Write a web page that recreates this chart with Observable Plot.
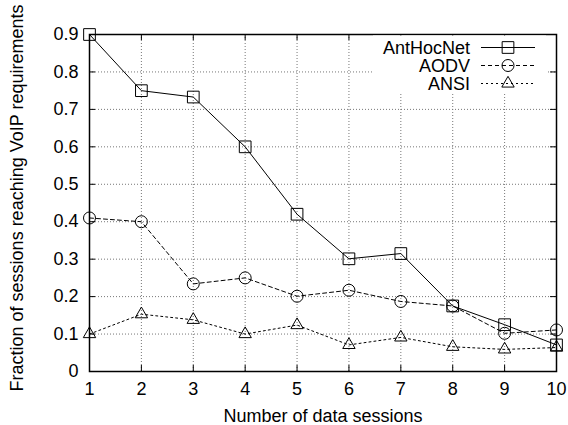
<!DOCTYPE html>
<html><head><meta charset="utf-8">
<script src="https://cdn.jsdelivr.net/npm/d3@7"></script>
<script src="https://cdn.jsdelivr.net/npm/@observablehq/plot@0.6"></script>
<style>
body{margin:0;background:#fff}
svg{font-family:"Liberation Sans",Arial,Helvetica,sans-serif}
</style>
</head><body><div id="chart"></div>
<script>
const sessions = [1, 2, 3, 4, 5, 6, 7, 8, 9, 10];
const antHocNet = [0.9, 0.75, 0.733, 0.6, 0.42, 0.301, 0.315, 0.175, 0.125, 0.071];
const aodv = [0.41, 0.40, 0.234, 0.25, 0.201, 0.217, 0.187, 0.175, 0.102, 0.111];
const ansi = [0.10, 0.153, 0.138, 0.10, 0.124, 0.071, 0.091, 0.066, 0.059, 0.064];
const yTicks = [0, 0.1, 0.2, 0.3, 0.4, 0.5, 0.6, 0.7, 0.8, 0.9];
const seriesNames = ["AntHocNet", "AODV", "ANSI"];
const xLabel = "Number of data sessions";
const yLabel = "Fraction of sessions reaching VoIP requirements";

const W = 568, H = 425;
const mL = 89, mR = 12, mT = 34, mB = 54;
const fw = W - mL - mR, fh = H - mT - mB;
const FS = 18;
const styles = [
  {symbol: "square", r: 6.6, dash: null},
  {symbol: "circle", r: 6, dash: "4,3"},
  {symbol: "triangle", r: 4.6, dash: "2,3"}
];
const allSeries = [antHocNet, aodv, ansi];
const data = [];
allSeries.forEach((vals, s) => vals.forEach((v, i) => data.push({series: seriesNames[s], s, x: sessions[i], y: v})));

const marks = [
  Plot.gridX({ticks: sessions, stroke: "#777", strokeOpacity: 1, strokeDasharray: "1,2"}),
  Plot.gridY({ticks: yTicks, stroke: "#777", strokeOpacity: 1, strokeDasharray: "1,2"}),
  Plot.tickX(sessions, {x: d => d, insetTop: fh - 6, stroke: "black"}),
  Plot.tickX(sessions, {x: d => d, insetBottom: fh - 6, stroke: "black"}),
  Plot.tickY(yTicks, {y: d => d, insetRight: fw - 6, stroke: "black"}),
  Plot.tickY(yTicks, {y: d => d, insetLeft: fw - 6, stroke: "black"}),
  Plot.axisX({ticks: sessions, tickSize: 0, tickPadding: 11, fontSize: FS, label: null, tickFormat: d => String(d)}),
  Plot.axisY({ticks: yTicks, tickSize: 0, tickPadding: 11, fontSize: FS, label: null, tickFormat: d => d === 0 ? "0" : d.toFixed(1)}),
];
styles.forEach((st, s) => {
  const d = data.filter(e => e.s === s);
  marks.push(Plot.line(d, {x: "x", y: "y", stroke: "black", strokeWidth: 1, strokeDasharray: st.dash}));
  marks.push(Plot.dot(d, {x: "x", y: "y", symbol: st.symbol, r: st.r, stroke: "black", strokeWidth: 1, fill: "none"}));
});
marks.push(
  Plot.text([xLabel], {frameAnchor: "bottom", dy: 45, fontSize: FS, text: d => d, fill: "black", lineAnchor: "middle"}),
  Plot.text([yLabel], {frameAnchor: "left", textAnchor: "middle", lineAnchor: "middle", dx: -72, dy: -5, rotate: -90, fontSize: FS, text: d => d, fill: "black"}),
  Plot.frame({stroke: "black", strokeWidth: 1.5})
);

const chart = Plot.plot({
  width: W, height: H,
  marginLeft: mL, marginRight: mR, marginTop: mT, marginBottom: mB,
  style: {fontFamily: '"Liberation Sans",Arial,sans-serif', fontSize: FS + "px", color: "black", background: "white"},
  x: {domain: [1, 10]},
  y: {domain: [0, 0.9]},
  marks
});
document.getElementById("chart").appendChild(chart);

// legend
const svg = d3.select(chart);
const g = svg.append("g");
const right = W - mR;
g.append("rect").attr("x", right - 183).attr("y", mT + 1.5).attr("width", 173).attr("height", 58).attr("fill", "white");
const symMap = {square: d3.symbolSquare, circle: d3.symbolCircle, triangle: d3.symbolTriangle};
seriesNames.forEach((name, i) => {
  const y = mT + 13.5 + 18 * i;
  g.append("text").attr("x", right - 86).attr("y", y).attr("dy", "0.35em").attr("text-anchor", "end")
    .attr("font-size", FS).attr("fill", "black").text(name);
  g.append("line").attr("x1", right - 75).attr("x2", right - 21).attr("y1", y).attr("y2", y)
    .attr("stroke", "black").attr("stroke-width", 1).attr("stroke-dasharray", styles[i].dash);
  g.append("path").attr("transform", `translate(${right - 48},${y})`)
    .attr("d", d3.symbol(symMap[styles[i].symbol], Math.PI * styles[i].r * styles[i].r)())
    .attr("fill", "none").attr("stroke", "black");
});
</script>
</body></html>
